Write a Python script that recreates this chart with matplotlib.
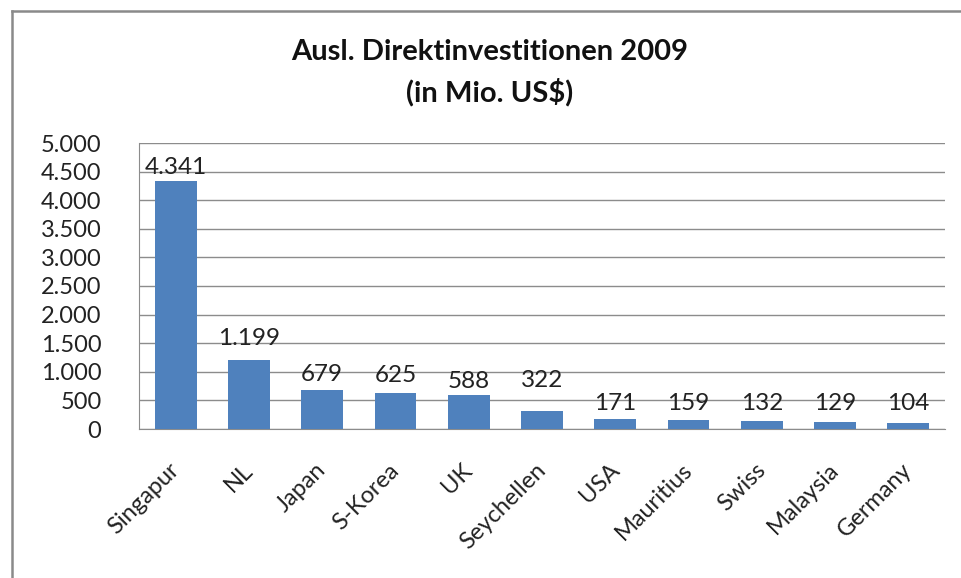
import matplotlib
matplotlib.use("Agg")
import matplotlib.pyplot as plt
from matplotlib.lines import Line2D
import matplotlib.transforms as mtransforms

plt.rcParams['font.family'] = ['Lato', 'DejaVu Sans']

categories = ["Singapur", "NL", "Japan", "S-Korea", "UK", "Seychellen", "USA",
              "Mauritius", "Swiss", "Malaysia", "Germany"]
values = [4341, 1199, 679, 625, 588, 322, 171, 159, 132, 129, 104]
# baseline height of each value label, as placed in the original chart (data units)
label_y = [4458, 1469, 839, 822, 717, 734, 332, 332, 332, 332, 332]
yticks = [0, 500, 1000, 1500, 2000, 2500, 3000, 3500, 4000, 4500, 5000]
title_lines = ["Ausl. Direktinvestitionen 2009", "(in Mio. US$)"]


def de_fmt(v):
    return f"{v:,}".replace(",", ".")


W, H = 961, 578
fig = plt.figure(figsize=(W / 100, H / 100), dpi=100)
fig.patch.set_facecolor("white")

ax = fig.add_axes([139 / W, 1 - 429 / H, (945 - 139) / W, (429 - 143) / H])
x = list(range(len(categories)))
ax.bar(x, values, width=0.57, color="#4F81BD", zorder=3)
ax.set_xlim(-0.5, len(categories) - 0.5)
ax.set_ylim(0, 5000)
ax.set_yticks(yticks)
ax.set_yticklabels([de_fmt(t) for t in yticks], fontsize=17, color="#222222")
ax.tick_params(axis="y", length=0, pad=27)
ax.set_xticks(x)
ax.set_xticklabels(categories, rotation=45, ha="right", va="top",
                   rotation_mode="anchor", fontsize=17, color="#222222")
ax.tick_params(axis="x", length=0, pad=22)
shift = mtransforms.ScaledTranslation(-7 / 100, 0, fig.dpi_scale_trans)
for lbl in ax.get_xticklabels():
    lbl.set_transform(lbl.get_transform() + shift)
ax.grid(axis="y", color="#8c8c8c", linewidth=1.0, zorder=0)
for s in ["top", "right"]:
    ax.spines[s].set_visible(False)
ax.spines["left"].set_color("#8c8c8c")
ax.spines["bottom"].set_color("#8c8c8c")
ax.set_axisbelow(True)

for xi, v, ly in zip(x, values, label_y):
    ax.text(xi, ly, de_fmt(v), ha="center", va="baseline", fontsize=17.5,
            color="#222222", zorder=4)

fig.text(490 / W, 1 - 52 / H, title_lines[0], ha="center", va="center",
         fontsize=21, fontweight="bold", color="#111111")
fig.text(490 / W, 1 - 92 / H, title_lines[1], ha="center", va="center",
         fontsize=21, fontweight="bold", color="#111111")

# outer chart border (top and left)
fig.add_artist(Line2D([12 / W, 1.0], [1 - 11 / H, 1 - 11 / H], color="#8a8a8a",
                      linewidth=1.8, transform=fig.transFigure))
fig.add_artist(Line2D([12 / W, 12 / W], [0, 1 - 11 / H], color="#8a8a8a",
                      linewidth=1.8, transform=fig.transFigure))

fig.savefig("out.png", dpi=100)
